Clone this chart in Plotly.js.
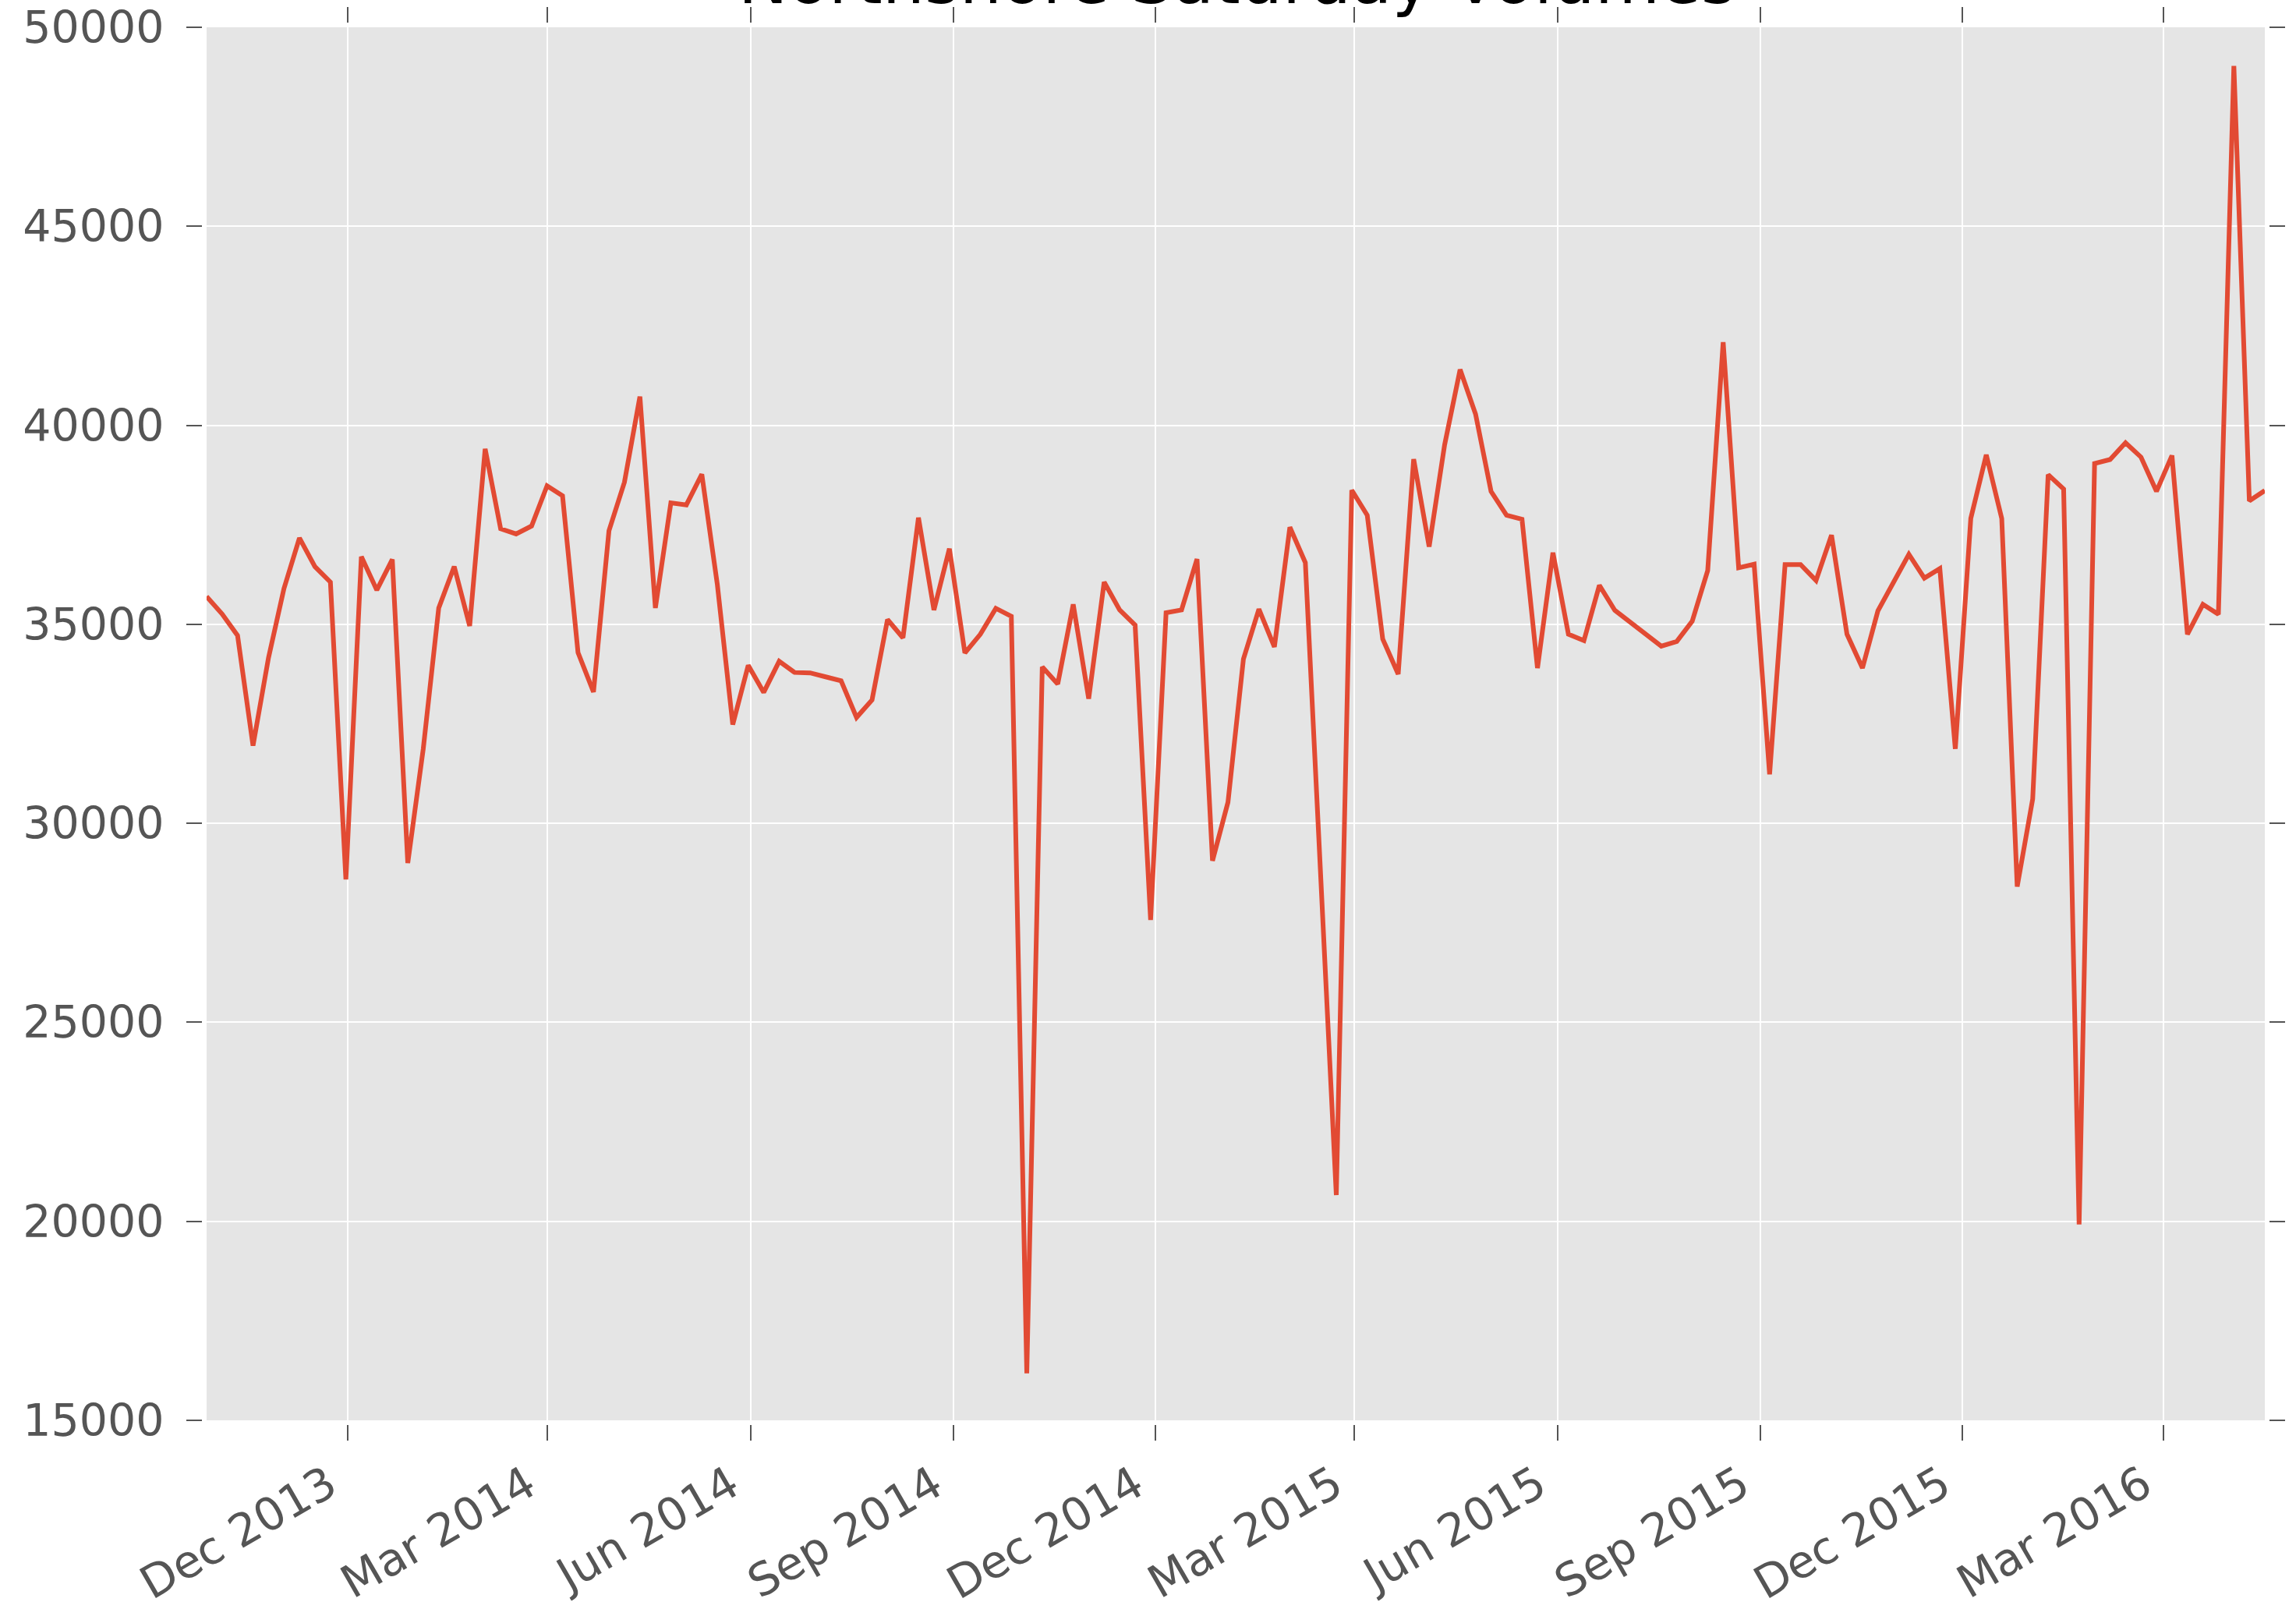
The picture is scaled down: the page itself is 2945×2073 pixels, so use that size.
<!DOCTYPE html>
<html>
<head>
<meta charset="utf-8">
<script src="https://cdn.plot.ly/plotly-3.0.1.min.js"></script>
<style>
  html, body { margin: 0; padding: 0; background: #ffffff; }
  #chart { width: 2945px; height: 2073px; }
</style>
</head>
<body>
<div id="chart"></div>
<script>
const dates = [
  '2013-09-28','2013-10-05','2013-10-12','2013-10-19','2013-10-26','2013-11-02','2013-11-09','2013-11-16','2013-11-23','2013-11-30',
  '2013-12-07','2013-12-14','2013-12-21','2013-12-28','2014-01-04','2014-01-11','2014-01-18','2014-01-25','2014-02-01','2014-02-08',
  '2014-02-15','2014-02-22','2014-03-01','2014-03-08','2014-03-15','2014-03-22','2014-03-29','2014-04-05','2014-04-12','2014-04-19',
  '2014-04-26','2014-05-03','2014-05-10','2014-05-17','2014-05-24','2014-05-31','2014-06-07','2014-06-14','2014-06-21','2014-06-28',
  '2014-07-05','2014-07-12','2014-07-19','2014-07-26','2014-08-02','2014-08-09','2014-08-16','2014-08-23','2014-08-30','2014-09-06',
  '2014-09-13','2014-09-20','2014-09-27','2014-10-04','2014-10-11','2014-10-18','2014-10-25','2014-11-01','2014-11-08','2014-11-15',
  '2014-11-22','2014-11-29','2014-12-06','2014-12-13','2014-12-20','2014-12-27','2015-01-03','2015-01-10','2015-01-17','2015-01-24',
  '2015-01-31','2015-02-07','2015-02-21','2015-02-28','2015-03-07','2015-03-14','2015-03-21','2015-03-28','2015-04-04','2015-04-11',
  '2015-04-18','2015-04-25','2015-05-02','2015-05-09','2015-05-16','2015-05-23','2015-05-30','2015-06-06','2015-06-13','2015-06-20',
  '2015-06-27','2015-07-04','2015-07-11','2015-07-18','2015-07-25','2015-08-01','2015-08-08','2015-08-15','2015-08-22','2015-08-29',
  '2015-09-05','2015-09-12','2015-09-19','2015-09-26','2015-10-03','2015-10-10','2015-10-17','2015-10-24','2015-10-31','2015-11-07',
  '2015-11-14','2015-11-21','2015-11-28','2015-12-05','2015-12-12','2015-12-19','2015-12-26','2016-01-02','2016-01-09','2016-01-16',
  '2016-01-23','2016-01-30','2016-02-06','2016-02-13','2016-02-20','2016-02-27','2016-03-05','2016-03-12','2016-03-19','2016-03-26',
  '2016-04-02','2016-04-09','2016-04-16'
];

const volumes = [
  35700, 35260, 34720, 31950, 34160, 35900, 37170, 36450, 36060, 28590,
  36700, 35860, 36630, 29000, 31870, 35410, 36450, 34960, 39410, 37400,
  37270, 37470, 38480, 38230, 34290, 33300, 37350, 38570, 40720, 35410,
  38050, 38000, 38770, 36010, 32480, 33970, 33290, 34070, 33790, 33780,
  33680, 33580, 32660, 33100, 35120, 34660, 37680, 35360, 36900, 34280,
  34750, 35400, 35200, 16180, 33930, 33500, 35500, 33130, 36060, 35360,
  34980, 27570, 35290, 35360, 36640, 29060, 30530, 34130, 35380, 34430,
  37440, 36550, 20660, 38370, 37740, 34630, 33750, 39150, 36950, 39510,
  41400, 40280, 38340, 37740, 37640, 33900, 36800, 34750, 34590, 35980,
  35350, 35050, 34720, 34450, 34570, 35080, 36350, 42090, 36420, 36510,
  31230, 36500, 36500, 36100, 37240, 34750, 33900, 35340, 36050, 36760,
  36160, 36400, 31870, 37660, 39260, 37660, 28410, 30610, 38760, 38400,
  19920, 39040, 39140, 39560, 39200, 38340, 39240, 34750, 35500, 35250,
  49030, 38100, 38360
];

const xTickVals = ['2013-12-01','2014-03-01','2014-06-01','2014-09-01','2014-12-01',
                   '2015-03-01','2015-06-01','2015-09-01','2015-12-01','2016-03-01'];
const xTickText = ['Dec 2013','Mar 2014','Jun 2014','Sep 2014','Dec 2014',
                   'Mar 2015','Jun 2015','Sep 2015','Dec 2015','Mar 2016'];
const yTickVals = [15000, 20000, 25000, 30000, 35000, 40000, 45000, 50000];

const titleText = 'Northshore Saturday Volumes';

const FONT = '"DejaVu Sans"';
const TICKCOL = '#555555';

const trace = {
  type: 'scatter',
  mode: 'lines',
  x: dates,
  y: volumes,
  line: { color: '#E24A33', width: 6 },
  hoverinfo: 'x+y'
};

const layout = {
  width: 2945,
  height: 2073,
  paper_bgcolor: '#FFFFFF',
  plot_bgcolor: '#E5E5E5',
  showlegend: false,
  margin: { l: 265, r: 40, t: 35, b: 251, pad: 0 },
  font: { family: FONT, color: TICKCOL },
  title: {
    text: titleText,
    font: { family: FONT, size: 85.6, color: '#000000' },
    x: 0.5387, xref: 'container', xanchor: 'center',
    y: 1 - 4 / 2073, yref: 'container', yanchor: 'bottom'
  },
  xaxis: {
    type: 'date',
    range: [dates[0], dates[dates.length - 1]],
    tickvals: xTickVals,
    ticktext: xTickText,
    tickangle: -30,
    ticklabelshift: -25,
    tickfont: { family: FONT, size: 58, color: TICKCOL },
    ticks: 'outside', ticklen: 20, tickwidth: 2, tickcolor: TICKCOL,
    showline: true, linecolor: '#FFFFFF', linewidth: 6, mirror: 'ticks',
    showgrid: true, gridcolor: '#FFFFFF', gridwidth: 2,
    zeroline: false, fixedrange: true
  },
  yaxis: {
    range: [15000, 50000],
    tickvals: yTickVals,
    tickformat: 'd',
    ticklabelstandoff: 17,
    tickfont: { family: FONT, size: 57, color: TICKCOL },
    ticks: 'outside', ticklen: 20, tickwidth: 2, tickcolor: TICKCOL,
    showline: true, linecolor: '#FFFFFF', linewidth: 6, mirror: 'ticks',
    showgrid: true, gridcolor: '#FFFFFF', gridwidth: 2,
    zeroline: false, fixedrange: true
  }
};

Plotly.newPlot('chart', [trace], layout, { staticPlot: true, displayModeBar: false });
</script>
</body>
</html>
